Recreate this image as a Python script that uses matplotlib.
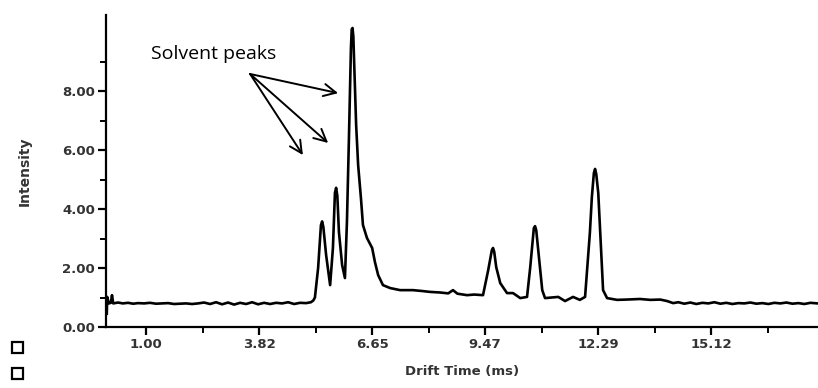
import matplotlib
matplotlib.use('Agg')
import matplotlib.pyplot as plt
from matplotlib.patches import Rectangle

# drift time (ms) and intensity
drift_time = [0.02, 0.03, 0.07, 0.12, 0.15, 0.18, 0.30, 0.42, 0.55, 0.68,
              0.80, 0.95, 1.10, 1.25, 1.40, 1.55, 1.70, 1.85, 2.00, 2.15,
              2.30, 2.45, 2.60, 2.75, 2.90, 3.05, 3.20, 3.35, 3.50, 3.65,
              3.80, 3.95, 4.10, 4.25, 4.40, 4.55, 4.70, 4.85, 5.00, 5.12,
              5.18, 5.22, 5.30, 5.37, 5.40, 5.43, 5.50, 5.60, 5.67, 5.72,
              5.75, 5.78, 5.82, 5.90, 5.97, 6.02, 6.07, 6.12, 6.14, 6.16,
              6.18, 6.20, 6.25, 6.30, 6.37, 6.42, 6.52, 6.65, 6.72, 6.80,
              6.92, 7.10, 7.35, 7.67, 7.90, 8.10, 8.35, 8.55, 8.67, 8.78,
              9.02, 9.20, 9.42, 9.55, 9.64, 9.67, 9.70, 9.75, 9.85, 10.02,
              10.17, 10.35, 10.52, 10.60, 10.69, 10.72, 10.75, 10.80, 10.90, 10.97,
              11.30, 11.47, 11.67, 11.84, 11.97, 12.09, 12.14, 12.19, 12.22, 12.25,
              12.30, 12.37, 12.42, 12.52, 12.77, 13.00, 13.34, 13.60, 13.85, 14.02,
              14.17, 14.30, 14.45, 14.60, 14.75, 14.90, 15.05, 15.20, 15.35, 15.50,
              15.65, 15.80, 15.95, 16.10, 16.25, 16.40, 16.55, 16.70, 16.85, 17.00,
              17.15, 17.30, 17.45, 17.60, 17.78]
intensity = [0.45, 1.02, 0.80, 0.82, 1.08, 0.80, 0.83, 0.80, 0.82, 0.79,
             0.81, 0.80, 0.82, 0.79, 0.80, 0.81, 0.78, 0.79, 0.80, 0.78,
             0.80, 0.83, 0.78, 0.84, 0.77, 0.83, 0.76, 0.82, 0.78, 0.84,
             0.77, 0.82, 0.78, 0.82, 0.80, 0.84, 0.78, 0.82, 0.81, 0.84,
             0.90, 1.00, 2.00, 3.45, 3.58, 3.40, 2.44, 1.42, 2.68, 4.55,
             4.72, 4.45, 3.22, 2.10, 1.66, 3.56, 6.41, 9.46, 10.10, 10.14,
             9.85, 8.98, 6.85, 5.49, 4.37, 3.46, 3.02, 2.68, 2.20, 1.76,
             1.42, 1.32, 1.25, 1.25, 1.22, 1.19, 1.17, 1.14, 1.25, 1.13,
             1.08, 1.10, 1.08, 1.93, 2.60, 2.68, 2.55, 2.03, 1.49, 1.15,
             1.15, 0.98, 1.02, 2.03, 3.35, 3.42, 3.28, 2.61, 1.25, 0.98,
             1.02, 0.88, 1.02, 0.92, 1.02, 3.19, 4.41, 5.22, 5.36, 5.18,
             4.54, 2.61, 1.25, 0.98, 0.92, 0.93, 0.95, 0.92, 0.93, 0.88,
             0.81, 0.84, 0.79, 0.83, 0.78, 0.82, 0.80, 0.84, 0.79, 0.82,
             0.78, 0.81, 0.80, 0.83, 0.79, 0.81, 0.78, 0.82, 0.80, 0.83,
             0.79, 0.81, 0.78, 0.82, 0.80]

x_major = [1.00, 3.8235, 6.647, 9.4705, 12.294, 15.1175]
x_labels = ['1.00', '3.82', '6.65', '9.47', '12.29', '15.12']
x_minor = [2.41175, 5.23525, 8.05875, 10.88225, 13.70575, 16.52925]
y_major = [0, 2, 4, 6, 8]
y_labels = ['0.00', '2.00', '4.00', '6.00', '8.00']
y_minor = [1, 3, 5, 7, 9]

# annotation: label position, arrow start and the three arrow tips
label_xy = (2.70, 9.25)
arrow_from = (3.60, 8.58)
arrow_tips = [(5.80, 7.93), (5.55, 6.24), (4.92, 5.83)]

fig = plt.figure(figsize=(8.18, 3.88), dpi=100)
ax = fig.add_axes([106/818, 61/388, 712/818, 312/388])

ax.plot(drift_time, intensity, color='black', lw=1.9, solid_joinstyle='round')

ax.set_xlim(0, 17.79)
ax.set_ylim(0, 10.58)
ax.set_xticks(x_major)
ax.set_xticklabels(x_labels)
ax.set_xticks(x_minor, minor=True)
ax.set_yticks(y_major)
ax.set_yticklabels(y_labels)
ax.set_yticks(y_minor, minor=True)

for s in ['top', 'right']:
    ax.spines[s].set_visible(False)
for s in ['left', 'bottom']:
    ax.spines[s].set_linewidth(1.6)

ax.tick_params(which='major', length=6, width=1.6, labelsize=9.5, colors='black',
               labelcolor='#333333', pad=2)
ax.tick_params(which='minor', length=4.5, width=1.4)
for lbl in ax.get_xticklabels() + ax.get_yticklabels():
    lbl.set_fontweight('heavy')

ax.set_xlabel('Drift Time (ms)', fontsize=9.5, fontweight='heavy', color='#333333', labelpad=10)
ax.set_ylabel('Intensity', fontsize=10, fontweight='heavy', color='#333333', labelpad=22)

ax.text(label_xy[0], label_xy[1], 'Solvent peaks', fontsize=14, family='Open Sans',
        ha='center', va='center')
for tip in arrow_tips:
    ax.annotate('', xy=tip, xytext=arrow_from,
                arrowprops=dict(arrowstyle='->', lw=1.4, color='black',
                                mutation_scale=22, shrinkA=0, shrinkB=0))

# two empty boxes at the lower left corner
for top in [342, 368]:
    fig.patches.append(Rectangle((12/818, (388 - top - 11)/388), 11/818, 11/388,
                                 transform=fig.transFigure, fill=False,
                                 lw=1.6, ec='black'))

fig.savefig('out.png', dpi=100)
